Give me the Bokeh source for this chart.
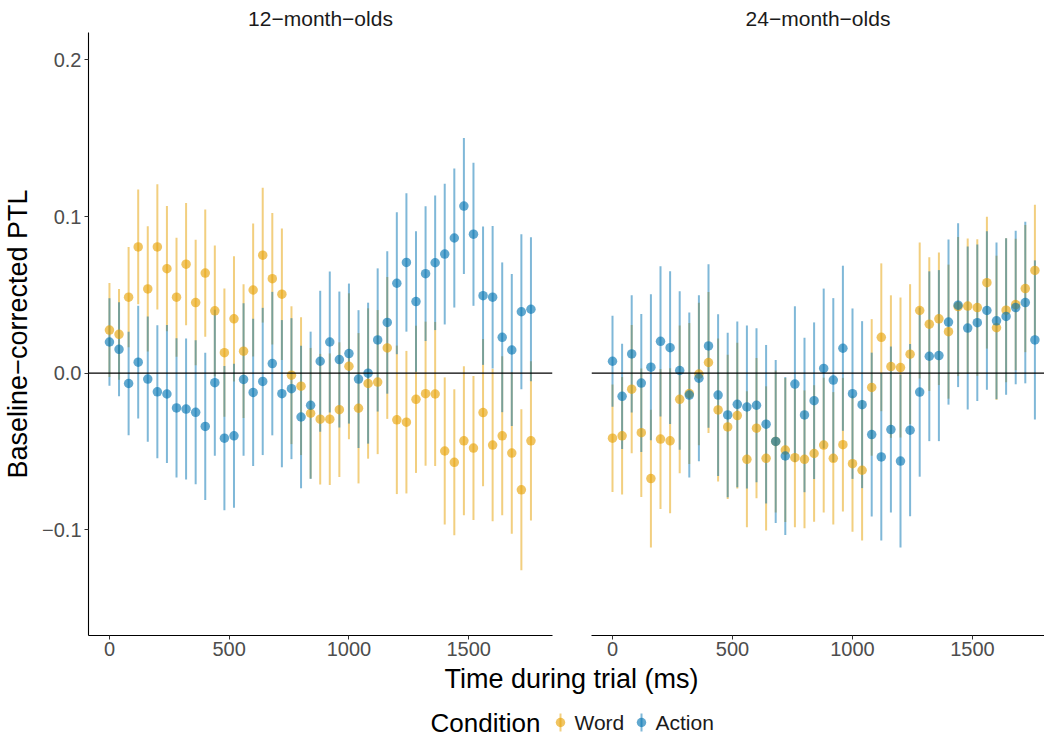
from bokeh.plotting import figure
from bokeh.models import ColumnDataSource, Range1d, FixedTicker, Span, PrintfTickFormatter
from bokeh.layouts import row, column
from bokeh.embed import file_html
from bokeh.resources import INLINE
from bokeh.core.properties import value

# ---------------- data ----------------
time_ms = [0, 40, 80, 120, 160, 200, 240, 280, 320, 360, 400, 440, 480, 520, 560,
           600, 640, 680, 720, 760, 800, 840, 880, 920, 960, 1000, 1040, 1080, 1120,
           1160, 1200, 1240, 1280, 1320, 1360, 1400, 1440, 1480, 1520, 1560, 1600,
           1640, 1680, 1720, 1760]

panel_titles = ["12\u2212month\u2212olds", "24\u2212month\u2212olds"]
conditions = ["Word", "Action"]

m12_word_mean = [0.0275, 0.0248, 0.0485, 0.0806, 0.0538, 0.0806, 0.0667, 0.0485, 0.0696, 0.0451,
                 0.0639, 0.0398, 0.0131, 0.0347, 0.0140, 0.0531, 0.0753, 0.0603, 0.0504, -0.0013,
                 -0.0083, -0.0256, -0.0294, -0.0294, -0.0233, 0.0044, -0.0224, -0.0066, -0.0057, 0.0161,
                 -0.0298, -0.0313, -0.0167, -0.0131, -0.0133, -0.0497, -0.0569, -0.0432, -0.0478, -0.0252,
                 -0.0459, -0.0400, -0.0510, -0.0745, -0.0432]
m12_word_se = [0.030, 0.029, 0.032, 0.0366, 0.040, 0.040, 0.040, 0.038, 0.039, 0.040,
               0.0406, 0.0417, 0.041, 0.040, 0.0427, 0.0425, 0.043, 0.042, 0.042, 0.044,
               0.044, 0.0417, 0.0417, 0.042, 0.043, 0.0466, 0.048, 0.048, 0.046, 0.0453,
               0.0474, 0.0455, 0.047, 0.046, 0.046, 0.047, 0.0466, 0.0476, 0.046, 0.047,
               0.0487, 0.0508, 0.0516, 0.0514, 0.0508]
m12_action_mean = [0.0199, 0.0152, -0.0066, 0.0070, -0.0038, -0.0119, -0.0133, -0.0222, -0.0229, -0.0250,
                   -0.0340, -0.0061, -0.0415, -0.0400, -0.0040, -0.0123, -0.0053, 0.0061, -0.0131, -0.0099,
                   -0.0280, -0.0205, 0.0076, 0.0199, 0.0087, 0.0125, -0.0038, 0.0000, 0.0212, 0.0324,
                   0.0574, 0.0707, 0.0457, 0.0635, 0.0705, 0.0760, 0.0863, 0.1067, 0.0887, 0.0495,
                   0.0485, 0.0229, 0.0148, 0.0392, 0.0408]
m12_action_se = [0.028, 0.030, 0.033, 0.036, 0.040, 0.0425, 0.044, 0.0445, 0.045, 0.046,
                 0.047, 0.0466, 0.046, 0.046, 0.0487, 0.047, 0.047, 0.0458, 0.047, 0.045,
                 0.0455, 0.047, 0.045, 0.045, 0.0434, 0.0447, 0.044, 0.045, 0.0457, 0.0455,
                 0.0453, 0.0442, 0.0449, 0.043, 0.043, 0.0449, 0.0444, 0.0434, 0.0457, 0.0442,
                 0.0455, 0.0478, 0.0485, 0.0495, 0.046]

m24_word_mean = [-0.0415, -0.0400, -0.0102, -0.0380, -0.0673, -0.0421, -0.0432, -0.0167, -0.0130, -0.0006,
                 0.0068, -0.0235, -0.0343, -0.0271, -0.0550, -0.0351, -0.0544, -0.0436, -0.0491, -0.0540,
                 -0.0550, -0.0513, -0.0459, -0.0544, -0.0457, -0.0578, -0.0620, -0.0091, 0.0229, 0.0042,
                 0.0036, 0.0121, 0.0400, 0.0313, 0.0347, 0.0265, 0.0425, 0.0428, 0.0419, 0.0578,
                 0.0290, 0.0402, 0.0438, 0.0540, 0.0656]
m24_word_se = [0.0343, 0.0375, 0.041, 0.041, 0.044, 0.0447, 0.0463, 0.0472, 0.045, 0.0455,
               0.045, 0.0457, 0.0461, 0.0465, 0.0434, 0.0447, 0.046, 0.0453, 0.046, 0.0444,
               0.044, 0.0436, 0.043, 0.0423, 0.0427, 0.0434, 0.0449, 0.0436, 0.0472, 0.0455,
               0.0447, 0.0447, 0.0434, 0.0427, 0.0423, 0.0428, 0.0444, 0.0432, 0.0436, 0.0421,
               0.046, 0.046, 0.042, 0.0406, 0.042]
m24_action_mean = [0.0076, -0.0148, 0.0123, -0.0063, 0.0038, 0.0203, 0.0163, 0.0017, -0.0140, -0.0032,
                   0.0174, -0.0140, -0.0267, -0.0199, -0.0216, -0.0205, -0.0326, -0.0436, -0.0529, -0.0070,
                   -0.0267, -0.0176, 0.0030, -0.0044, 0.0159, -0.0131, -0.0201, -0.0392, -0.0535, -0.0360,
                   -0.0561, -0.0364, -0.0121, 0.0108, 0.0112, 0.0326, 0.0434, 0.0288, 0.0322, 0.0400,
                   0.0334, 0.0362, 0.0419, 0.0451, 0.0212]
m24_action_se = [0.029, 0.0336, 0.0375, 0.044, 0.0466, 0.048, 0.0487, 0.0506, 0.0527, 0.053,
                 0.0522, 0.0516, 0.0525, 0.0529, 0.052, 0.0491, 0.0506, 0.052, 0.0504, 0.0497,
                 0.0493, 0.050, 0.051, 0.0523, 0.0527, 0.0544, 0.0533, 0.0523, 0.0533, 0.053,
                 0.0552, 0.055, 0.054, 0.0542, 0.0546, 0.0527, 0.0523, 0.052, 0.050, 0.0506,
                 0.050, 0.050, 0.049, 0.0516, 0.0508]

x_ticks = [0, 500, 1000, 1500]
y_ticks = [0.2, 0.1, 0.0, -0.1]
y_tick_labels = ["0.2", "0.1", "0.0", "\u22120.1"]

x_title = "Time during trial (ms)"
y_title = "Baseline\u2212corrected PTL"
legend_title = "Condition"

# ---------------- style ----------------
FONT = "Liberation Sans"
COLORS = {"Word": "#E69F00", "Action": "#0072B2"}
Y_RANGE = (-0.1675, 0.2175)
X_START = -87.5
SCALE = 0.24  # px per ms
TOP_H = 665


def make_panel(title, series, width, border_left, border_right, show_y, title_offset):
    frame_w = width - border_left - border_right
    p = figure(width=width, height=TOP_H, output_backend="svg", toolbar_location=None,
               x_range=Range1d(X_START, X_START + frame_w / SCALE),
               y_range=Range1d(*Y_RANGE),
               min_border_left=border_left, min_border_right=border_right,
               min_border_top=32, min_border_bottom=30)
    p.title.text = title
    p.title.align = "center"
    p.title.offset = title_offset
    p.title.standoff = 5
    p.title.text_font = FONT
    p.title.text_font_size = "21px"
    p.title.text_font_style = "normal"
    p.title.text_color = "#1A1A1A"
    p.grid.visible = False
    p.outline_line_color = None
    p.background_fill_color = "white"
    p.border_fill_color = "white"

    p.add_layout(Span(location=0, dimension="width", line_color="black", line_width=1.3))

    renders = []
    for cond, mean, se in series:
        src = ColumnDataSource(dict(
            t=time_ms, m=mean,
            lo=[a - b for a, b in zip(mean, se)],
            hi=[a + b for a, b in zip(mean, se)]))
        renders.append((cond, src))
    for cond, src in renders:
        p.segment(x0="t", y0="lo", x1="t", y1="hi", source=src,
                  line_color=COLORS[cond], line_alpha=0.5, line_width=2)
    for cond, src in renders:
        p.scatter(x="t", y="m", source=src, size=9.5, fill_color=COLORS[cond],
                  fill_alpha=0.62, line_color=None)

    xa = p.xaxis[0]
    xa.ticker = FixedTicker(ticks=x_ticks)
    xa.axis_line_color = "black"
    xa.axis_line_width = 1.1
    xa.major_tick_line_color = "#333333"
    xa.major_tick_out = 4
    xa.major_tick_in = 0
    xa.minor_tick_line_color = None
    xa.major_label_text_font = FONT
    xa.major_label_text_font_size = "20px"
    xa.major_label_text_color = "#4D4D4D"
    xa.major_label_standoff = 2

    ya = p.yaxis[0]
    if show_y:
        ya.ticker = FixedTicker(ticks=y_ticks)
        ya.formatter = PrintfTickFormatter(format="%.1f")
        ya.major_label_overrides = {v: s for v, s in zip(y_ticks, y_tick_labels)}
        ya.axis_line_color = "black"
        ya.axis_line_width = 1.1
        ya.major_tick_line_color = "#333333"
        ya.major_tick_out = 4
        ya.major_tick_in = 0
        ya.minor_tick_line_color = None
        ya.major_label_text_font = FONT
        ya.major_label_text_font_size = "20px"
        ya.major_label_text_color = "#4D4D4D"
        ya.major_label_standoff = 3
        ya.axis_label = y_title
        ya.axis_label_text_font = FONT
        ya.axis_label_text_font_size = "27px"
        ya.axis_label_text_font_style = "normal"
        ya.axis_label_text_color = "black"
        ya.axis_label_standoff = 6
    else:
        ya.visible = False
    return p


left = make_panel(panel_titles[0],
                  [("Word", m12_word_mean, m12_word_se), ("Action", m12_action_mean, m12_action_se)],
                  width=570, border_left=87, border_right=18, show_y=True, title_offset=0)
right = make_panel(panel_titles[1],
                   [("Word", m24_word_mean, m24_word_se), ("Action", m24_action_mean, m24_action_se)],
                   width=474, border_left=21, border_right=0, show_y=False, title_offset=10)

# bottom strip: x-axis title and legend (coordinates are page pixels)
bottom = figure(width=1044, height=72, output_backend="svg", toolbar_location=None,
                x_range=Range1d(0, 1044), y_range=Range1d(737, 665),
                x_axis_location=None, y_axis_location=None, min_border=0)
bottom.grid.visible = False
bottom.outline_line_color = None

bottom.text(x=[571], y=[678], text=[x_title], text_align="center", text_baseline="middle",
            text_font=value(FONT), text_font_size="27px", text_color="black")
LEG_Y = 722
bottom.text(x=[430], y=[LEG_Y], text=[legend_title], text_align="left", text_baseline="middle",
            text_font=value(FONT), text_font_size="26px", text_color="black")
key_x = {"Word": 560, "Action": 641}
for cond in conditions:
    kx = key_x[cond]
    bottom.segment(x0=[kx], y0=[LEG_Y - 9], x1=[kx], y1=[LEG_Y + 9],
                   line_color=COLORS[cond], line_alpha=0.5, line_width=2)
    bottom.scatter(x=[kx], y=[LEG_Y], size=9.5, fill_color=COLORS[cond], fill_alpha=0.62,
                   line_color=None)
    bottom.text(x=[kx + 14], y=[LEG_Y], text=[cond], text_align="left", text_baseline="middle",
                text_font=value(FONT), text_font_size="21px", text_color="#1A1A1A")

layout = column(row(left, right), bottom)
open("out.html", "w").write(file_html(layout, INLINE))
